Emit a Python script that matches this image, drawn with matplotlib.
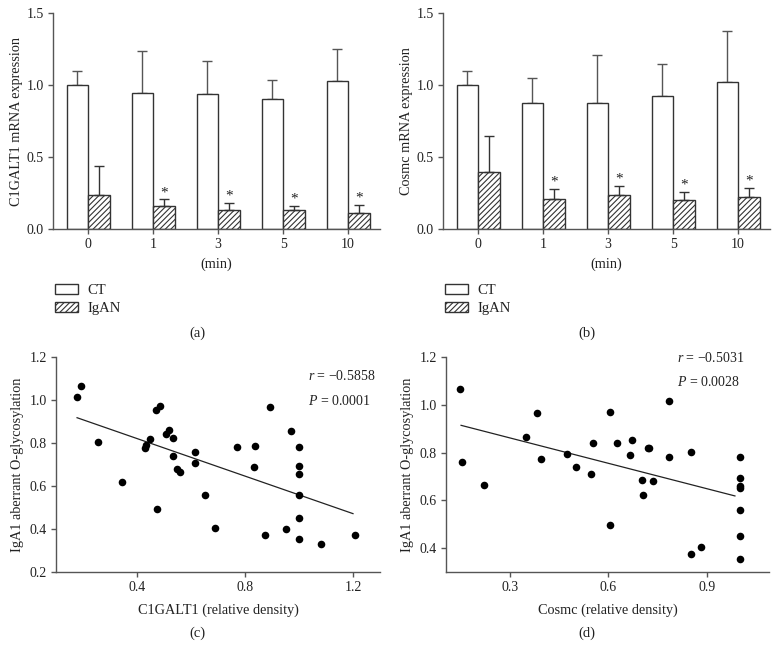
import numpy as np
import matplotlib
matplotlib.use("Agg")
import matplotlib.pyplot as plt
from matplotlib.patches import Patch

plt.rcParams['font.family'] = ['Liberation Serif', 'DejaVu Serif']
plt.rcParams['font.size'] = 10
plt.rcParams['hatch.linewidth'] = 0.8
plt.rcParams['mathtext.fontset'] = 'custom'
plt.rcParams['mathtext.it'] = 'Liberation Serif:italic'
plt.rcParams['mathtext.rm'] = 'Liberation Serif'

# ---------------- data ----------------
time_labels = ['0', '1', '3', '5', '10']

a_ct = [1.00, 0.942, 0.935, 0.900, 1.026]
a_ct_err_top = [1.10, 1.238, 1.167, 1.038, 1.252]
a_igan = [0.233, 0.157, 0.129, 0.129, 0.111]
a_igan_err_top = [0.435, 0.205, 0.182, 0.161, 0.168]

b_ct = [1.00, 0.877, 0.877, 0.926, 1.023]
b_ct_err_top = [1.10, 1.049, 1.206, 1.146, 1.375]
b_igan = [0.399, 0.210, 0.233, 0.198, 0.219]
b_igan_err_top = [0.645, 0.279, 0.297, 0.258, 0.288]

signif = [False, True, True, True, True]

c_x = [0.178, 0.193, 0.254, 0.346, 0.428, 0.432, 0.447, 0.470, 0.473, 0.484,
       0.507, 0.520, 0.535, 0.532, 0.548, 0.559, 0.614, 0.615, 0.651, 0.688,
       0.769, 0.833, 0.838, 0.873, 0.893, 0.952, 0.969, 1.0, 1.0, 1.0,
       1.0, 1.0, 1.0, 1.083, 1.209]
c_y = [1.014, 1.067, 0.803, 0.620, 0.775, 0.792, 0.817, 0.955, 0.495, 0.970,
       0.842, 0.862, 0.822, 0.740, 0.680, 0.665, 0.709, 0.760, 0.560, 0.403,
       0.781, 0.688, 0.788, 0.374, 0.967, 0.400, 0.855, 0.781, 0.695, 0.656,
       0.560, 0.451, 0.352, 0.332, 0.374]

d_x = [0.147, 0.153, 0.221, 0.349, 0.381, 0.393, 0.473, 0.501, 0.548, 0.554,
       0.605, 0.606, 0.625, 0.667, 0.673, 0.703, 0.704, 0.720, 0.725, 0.737,
       0.784, 0.784, 0.852, 0.852, 0.882, 1.0, 1.0, 1.0, 1.0, 1.0, 1.0, 1.0]
d_y = [1.067, 0.761, 0.666, 0.864, 0.967, 0.775, 0.794, 0.741, 0.709, 0.839,
       0.971, 0.495, 0.842, 0.789, 0.854, 0.687, 0.623, 0.820, 0.820, 0.682,
       1.015, 0.782, 0.803, 0.375, 0.403, 0.782, 0.694, 0.660, 0.650, 0.559,
       0.452, 0.353]

# regression lines (x start, x end)
c_fit_range = [0.178, 1.2]
d_fit_range = [0.15, 0.986]

c_stats = ("\u2212", "0.5858", "0.0001")
d_stats = ("\u2212", "0.5031", "0.0028")

AX_COL = '#555555'
TXT_COL = '#222222'

fig = plt.figure(figsize=(7.78, 6.6), dpi=100)
W, H = 778, 660


def add_ax(l, t, r, b):
    return fig.add_axes([l / W, 1 - b / H, (r - l) / W, (b - t) / H])


def style(ax):
    for s in ['top', 'right']:
        ax.spines[s].set_visible(False)
    for s in ['left', 'bottom']:
        ax.spines[s].set_color(AX_COL)
        ax.spines[s].set_linewidth(1.0)
    ax.tick_params(direction='out', length=3.5, width=1.0, color=AX_COL,
                   labelcolor=TXT_COL, labelsize=10, pad=3)


def bar_panel(ax, ct, ct_top, ig, ig_top, ylabel):
    x = np.arange(len(time_labels))
    w = 0.33
    ax.bar(x - w / 2, ct, w, facecolor='white', edgecolor='#333333', linewidth=1.0, zorder=2)
    ax.bar(x + w / 2, ig, w, facecolor='white', edgecolor='#333333', linewidth=1.0,
           hatch='//////', zorder=2)
    ct_err = np.array(ct_top) - np.array(ct)
    ig_err = np.array(ig_top) - np.array(ig)
    ax.errorbar(x - w / 2, ct, yerr=[np.zeros(len(ct)), ct_err], fmt='none',
                ecolor='#555555', elinewidth=1.0, capsize=3.6, capthick=1.0, zorder=1)
    ax.errorbar(x + w / 2, ig, yerr=[np.zeros(len(ig)), ig_err], fmt='none',
                ecolor='#333333', elinewidth=1.0, capsize=3.6, capthick=1.0, zorder=3)
    for xi, top, s in zip(x, ig_top, signif):
        if s:
            ax.text(xi + w / 2, top + 0.003, '*', ha='center', va='bottom',
                    fontsize=11, color=TXT_COL)
    ax.set_xlim(-0.54, 4.49)
    ax.set_ylim(0, 1.5)
    ax.set_yticks([0.0, 0.5, 1.0, 1.5])
    ax.set_yticklabels(['0.0', '0.5', '1.0', '1.5'])
    ax.set_xticks(x)
    ax.set_xticklabels(time_labels)
    ax.set_ylabel(ylabel, fontsize=10.3, color=TXT_COL, labelpad=3)
    ax.set_xlabel('(min)', fontsize=10.3, color=TXT_COL, labelpad=5)
    style(ax)


ax_a = add_ax(53, 13, 380, 229)
bar_panel(ax_a, a_ct, a_ct_err_top, a_igan, a_igan_err_top, 'C1GALT1 mRNA expression')
ax_b = add_ax(443, 13, 770, 229)
bar_panel(ax_b, b_ct, b_ct_err_top, b_igan, b_igan_err_top, 'Cosmc mRNA expression')

handles = [Patch(facecolor='white', edgecolor='#333333', label='CT'),
           Patch(facecolor='white', edgecolor='#333333', hatch='//////', label='IgAN')]
for lx in (55, 445):
    fig.legend(handles=handles, loc='upper left', bbox_to_anchor=(lx / W, 1 - 284 / H),
               frameon=False, fontsize=10.5, handlelength=1.6, handleheight=0.7,
               handletextpad=0.6, borderpad=0, borderaxespad=0, labelspacing=0.3,
               labelcolor=TXT_COL)


def scatter_panel(ax, xs, ys, fit_range, xlim, ylim, xticks, yticks, xlabel, stats, txt_pos):
    ax.scatter(xs, ys, s=30, color='black', zorder=3, linewidths=0)
    slope, inter = np.polyfit(np.array(xs), np.array(ys), 1)
    lx = np.array(fit_range)
    ax.plot(lx, slope * lx + inter, color='#222222', linewidth=0.9, zorder=2)
    ax.set_xlim(*xlim)
    ax.set_ylim(*ylim)
    ax.set_xticks(xticks)
    ax.set_xticklabels([f'{t:.1f}' for t in xticks])
    ax.set_yticks(yticks)
    ax.set_yticklabels([f'{t:.1f}' for t in yticks])
    ax.set_xlabel(xlabel, fontsize=10.3, color=TXT_COL, labelpad=7)
    ax.set_ylabel('IgA1 aberrant O-glycosylation', fontsize=10.3, color=TXT_COL, labelpad=4)
    sign, rv, pv = stats
    tx, ty_r, ty_p = txt_pos
    ax.text(tx, ty_r, f'$r$ = {sign}{rv}', fontsize=10, color=TXT_COL, va='center', ha='left')
    ax.text(tx, ty_p, f'$P$ = {pv}', fontsize=10, color=TXT_COL, va='center', ha='left')
    style(ax)


ax_c = add_ax(56, 357, 380, 572)
scatter_panel(ax_c, c_x, c_y, c_fit_range, (0.1, 1.3), (0.2, 1.2), [0.4, 0.8, 1.2],
              [0.2, 0.4, 0.6, 0.8, 1.0, 1.2], 'C1GALT1 (relative density)', c_stats,
              (1.034, 1.11, 0.997))
ax_d = add_ax(446, 357, 769, 572)
scatter_panel(ax_d, d_x, d_y, d_fit_range, (0.104, 1.09), (0.3, 1.2), [0.3, 0.6, 0.9],
              [0.4, 0.6, 0.8, 1.0, 1.2], 'Cosmc (relative density)', d_stats,
              (0.81, 1.196, 1.095))

for lab, cx, cy in [('(a)', 197, 333), ('(b)', 587, 333), ('(c)', 197, 633), ('(d)', 587, 633)]:
    fig.text(cx / W, 1 - cy / H, lab, ha='center', va='center', fontsize=10.5, color=TXT_COL)

fig.savefig('out.png', dpi=100)
